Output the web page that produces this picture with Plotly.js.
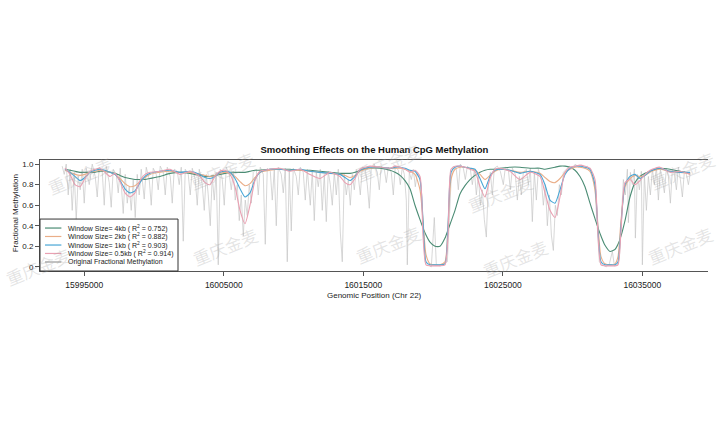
<!DOCTYPE html>
<html>
<head>
<meta charset="utf-8">
<script src="https://cdn.plot.ly/plotly-3.0.1.min.js"></script>
<style>html,body{margin:0;padding:0;background:#fff;}#chart{width:720px;height:445px;}</style>
</head>
<body>
<div id="chart"></div>
<script>
// ---- data ----
const smoothPos = [15993618,15993976,15994335,15994693,15995051,15995410,15995768,15996127,15996485,15996843,15997202,15997560,15997919,15998277,15998635,15998994,15999352,15999711,16000427,16001144,16001861,16002578,16003295,16003653,16004011,16004370,16004728,16005087,16005445,16005803,16006162,16006520,16006879,16007237,16007595,16008312,16009029,16009746,16010463,16011180,16011896,16012613,16013330,16013688,16014047,16014405,16014763,16015480,16016197,16016914,16017272,16017631,16017989,16018347,16018706,16019064,16019279,16019494,16019781,16020140,16020498,16020856,16021071,16021286,16021573,16021931,16022290,16022648,16023007,16023365,16023723,16024082,16024440,16024799,16025515,16026232,16026949,16027666,16028024,16028383,16028741,16029099,16029458,16029816,16030175,16030533,16030891,16031250,16031608,16031823,16032038,16032325,16032683,16033042,16033257,16033472,16033759,16034117,16034475,16034834,16035192,16035551,16035909,16036267,16036984,16037701,16038418];

const win4kb = [.95,.94,.93,.92,.92,.92,.92,.93,.93,.92,.91,.89,.87,.86,.85,.85,.85,.86,.88,.91,.92,.91,.89,.88,.88,.89,.90,.91,.92,.92,.92,.92,.93,.94,.94,.95,.95,.95,.94,.94,.93,.92,.91,.91,.91,.92,.94,.96,.96,.94,.92,.89,.84,.76,.60,.46,.38,.31,.24,.20,.20,.28,.36,.44,.55,.71,.79,.85,.89,.92,.94,.95,.95,.96,.97,.97,.96,.96,.95,.96,.97,.98,.98,.97,.94,.88,.78,.62,.47,.38,.30,.21,.15,.17,.22,.30,.45,.68,.82,.88,.91,.93,.95,.96,.95,.93,.91];

const win2kb = [.94,.92,.90,.89,.90,.92,.93,.94,.93,.92,.90,.86,.81,.78,.79,.83,.87,.90,.92,.93,.92,.92,.90,.89,.88,.89,.91,.92,.91,.88,.83,.79,.81,.87,.92,.94,.95,.94,.94,.93,.92,.91,.90,.89,.87,.89,.93,.96,.97,.96,.96,.96,.95,.93,.90,.75,.45,.12,.03,.02,.02,.05,.40,.85,.95,.97,.97,.96,.94,.90,.85,.89,.93,.95,.94,.92,.93,.91,.87,.83,.82,.86,.92,.95,.97,.97,.96,.93,.75,.40,.10,.03,.02,.03,.10,.45,.78,.86,.89,.88,.89,.92,.94,.95,.93,.92,.91];

const win1kb = [.95,.92,.88,.84,.87,.92,.94,.95,.94,.92,.90,.84,.76,.72,.74,.82,.88,.91,.93,.94,.92,.93,.90,.87,.86,.88,.92,.93,.92,.86,.76,.68,.72,.85,.92,.95,.95,.94,.95,.93,.92,.91,.90,.87,.84,.88,.94,.97,.97,.96,.97,.97,.96,.94,.93,.85,.45,.05,.02,.02,.02,.03,.40,.92,.97,.98,.97,.96,.95,.86,.76,.88,.94,.95,.94,.91,.93,.90,.80,.65,.62,.75,.90,.96,.98,.98,.97,.95,.80,.35,.05,.02,.02,.02,.05,.40,.80,.88,.90,.86,.89,.93,.95,.96,.93,.92,.92];

const win05kb = [.96,.90,.80,.78,.86,.93,.95,.96,.92,.88,.91,.83,.72,.68,.72,.84,.90,.92,.93,.95,.90,.93,.88,.82,.80,.88,.93,.94,.90,.78,.55,.42,.60,.84,.93,.95,.96,.93,.95,.90,.86,.92,.88,.82,.80,.86,.95,.98,.97,.96,.98,.97,.95,.92,.94,.88,.30,.02,.01,.01,.01,.02,.30,.95,.98,.98,.97,.95,.93,.78,.68,.86,.95,.96,.93,.85,.92,.88,.72,.55,.48,.68,.92,.97,.98,.99,.98,.96,.85,.30,.02,.01,.01,.01,.02,.35,.82,.85,.80,.84,.90,.94,.96,.97,.92,.93,.90];

const rawPos = [15993418,15993562,15993705,15993848,15993992,15994135,15994279,15994422,15994565,15994709,15994852,15994996,15995139,15995354,15995569,15995784,15995928,15996071,15996286,15996430,15996573,15996788,15996932,15997075,15997290,15997433,15997577,15997792,15997935,15998079,15998222,15998366,15998509,15998652,15998796,15998939,15999083,15999298,15999441,15999656,15999800,15999943,16000158,16000301,16000445,16000660,16000803,16000947,16001162,16001305,16001449,16001664,16001807,16001951,16002094,16002237,16002452,16002596,16002739,16002954,16003098,16003241,16003456,16003600,16003743,16003886,16004030,16004173,16004317,16004460,16004603,16004747,16004890,16005034,16005177,16005392,16005536,16005679,16005822,16005966,16006109,16006253,16006396,16006539,16006683,16006826,16006970,16007113,16007328,16007471,16007615,16007830,16007973,16008117,16008332,16008475,16008619,16008762,16008905,16009121,16009264,16009407,16009551,16009694,16009838,16009981,16010196,16010339,16010483,16010698,16010841,16010985,16011200,16011343,16011487,16011630,16011773,16011917,16012060,16012204,16012347,16012490,16012634,16012777,16012921,16013064,16013207,16013351,16013494,16013638,16013781,16013924,16014068,16014211,16014355,16014498,16014641,16014785,16014928,16015143,16015287,16015430,16015574,16015789,16016004,16016147,16016291,16016506,16016649,16016793,16017008,16017151,16017294,16017510,16017653,16017796,16017940,16018083,16018155,16018298,16018442,16018585,16018728,16018872,16019015,16019159,16019302,16019445,16019661,16019876,16020091,16020234,16020521,16020808,16021023,16021166,16021310,16021453,16021668,16021812,16021955,16022170,16022313,16022457,16022672,16022815,16022959,16023102,16023246,16023389,16023532,16023676,16023819,16023963,16024106,16024249,16024393,16024608,16024823,16025038,16025181,16025397,16025540,16025683,16025898,16026042,16026185,16026329,16026472,16026687,16026831,16026974,16027117,16027261,16027404,16027548,16027763,16027906,16028049,16028193,16028336,16028480,16028623,16028766,16028910,16029053,16029197,16029340,16029555,16029770,16029985,16030200,16030416,16030631,16030846,16031061,16031276,16031491,16031634,16031778,16031921,16032136,16032423,16032638,16032853,16032997,16033212,16033355,16033499,16033642,16033785,16033929,16034001,16034144,16034287,16034431,16034502,16034646,16034789,16034933,16035004,16035148,16035291,16035435,16035578,16035721,16035865,16036008,16036152,16036295,16036438,16036582,16036725,16036869,16037012,16037155,16037299,16037442,16037586,16037729,16037872,16038016,16038159,16038303,16038446];

const rawFrac = [.98,.90,1.0,.70,.95,.55,.92,.45,.88,.75,.95,.62,.96,.80,1.0,.88,.68,.97,.93,.60,.98,.82,.58,.95,.90,.72,.96,.52,.90,.62,.78,.55,.85,.48,.90,.70,.95,.66,.97,.85,.60,.96,.90,.75,.98,.92,.70,.97,.88,.62,.95,.93,.80,.97,.25,.95,.90,.70,.96,.85,.60,.95,.80,.55,.90,.70,.40,.88,.65,.92,.02,.95,.85,.60,.97,.90,.75,.93,.65,.80,.45,.70,.30,.65,.50,.80,.62,.92,.95,.70,.97,.90,.22,.96,.93,.65,.95,.40,.97,.90,.72,.96,.05,.94,.35,.96,.88,.70,.97,.92,.65,.95,.60,.93,.45,.92,.78,.95,.55,.90,.44,.93,.80,.60,.92,.70,.95,.34,.05,.90,.70,.85,.60,.90,.75,.95,.88,.70,.97,.95,.80,.57,.97,1.0,.92,.75,.98,.95,.82,.97,.92,.70,.98,.94,.80,.97,.90,.65,.02,.92,.85,.95,.78,.92,.88,.75,.40,.05,.02,.0,.48,.02,.01,.03,.05,.45,.90,.98,.95,.75,1.0,.96,.85,.98,.95,.80,.94,.70,.90,.60,.75,.46,.29,.80,.92,.70,.96,.98,.93,.80,.97,.95,.75,.96,.90,.65,.88,.70,.92,.95,.80,.96,.44,.92,.65,.95,.85,.60,.80,.40,.70,.31,.16,.60,.50,.80,.70,.92,.95,.98,.96,1.0,.97,.99,.96,.98,.94,.90,.70,.30,.05,.02,.0,.03,.15,.01,.02,.08,.50,.85,.70,.95,.43,.92,.80,.95,.28,.90,.75,.93,.02,.90,.55,.88,.70,.95,.80,.97,.65,.95,.85,.72,.96,.88,.62,.95,.90,.75,.97,.85,.68,.93,.90,.80,.92];

const seriesNames = [
  'Window Size= 4kb ( R<sup>2</sup> = 0.752)',
  'Window Size= 2kb ( R<sup>2</sup> = 0.882)',
  'Window Size= 1kb ( R<sup>2</sup> = 0.903)',
  'Window Size= 0.5kb ( R<sup>2</sup> = 0.914)',
  'Original Fractional Methylation'
];
const xTickVals = [15995000, 16005000, 16015000, 16025000, 16035000];
const xTickText = ['15995000', '16005000', '16015000', '16025000', '16035000'];
const yTickVals = [0, 0.2, 0.4, 0.6, 0.8, 1.0];
const yTickText = ['0', '0.2', '0.4', '0.6', '0.8', '1.0'];
const watermarkText = '重庆金麦';

// ---- styles ----
const colors = ['#4b8c74', '#eaae88', '#48a6d6', '#eaa0b2', '#c6c6c6'];
const font = 'Liberation Sans, Arial, sans-serif';

const traces = [
  {x: rawPos, y: rawFrac, mode: 'lines', line: {color: colors[4], width: 0.7}},
  {x: smoothPos, y: win4kb, mode: 'lines', line: {color: colors[0], width: 1.1, shape: 'spline', smoothing: 0.6}},
  {x: smoothPos, y: win2kb, mode: 'lines', line: {color: colors[1], width: 1.1, shape: 'spline', smoothing: 0.6}},
  {x: smoothPos, y: win1kb, mode: 'lines', line: {color: colors[2], width: 1.1, shape: 'spline', smoothing: 0.6}},
  {x: smoothPos, y: win05kb, mode: 'lines', line: {color: colors[3], width: 1.1, shape: 'spline', smoothing: 0.6}}
].map(t => Object.assign(t, {showlegend: false, hoverinfo: 'skip'}));

// legend (drawn manually, compact like the original)
const shapes = [{type: 'rect', xref: 'paper', yref: 'paper', x0: 0, x1: 0.2066, y0: 0, y1: 0.468,
  line: {color: '#333', width: 1}, fillcolor: 'rgba(255,255,255,0.9)', layer: 'above'}];
const annotations = [];
const rowY = [0.387, 0.311, 0.234, 0.158, 0.081];
const legendColors = [colors[0], colors[1], colors[2], colors[3], '#999999'];
seriesNames.forEach((name, i) => {
  shapes.push({type: 'line', xref: 'paper', yref: 'paper', x0: 0.0075, x1: 0.032, y0: rowY[i], y1: rowY[i],
    line: {color: legendColors[i], width: 1.2}, layer: 'above'});
  annotations.push({xref: 'paper', yref: 'paper', x: 0.039, y: rowY[i], xanchor: 'left', yanchor: 'middle',
    text: name, showarrow: false, font: {family: font, size: 7, color: '#222'}});
});

// axis titles
annotations.push({xref: 'paper', yref: 'paper', x: 0.5, y: -0.225, xanchor: 'center', yanchor: 'middle',
  text: 'Genomic Position (Chr 22)', showarrow: false, font: {family: font, size: 8, color: '#222'}});
annotations.push({xref: 'paper', yref: 'paper', x: -0.0374, y: 0.52, xanchor: 'center', yanchor: 'middle',
  text: 'Fractional Methylation', textangle: -90, showarrow: false, font: {family: font, size: 8, color: '#222'}});

// watermarks
const wm = [[80, 175], [38, 266], [222, 170], [225, 246], [388, 244], [388, 162], [500, 193], [515, 258], [680, 245], [682, 170]];
wm.forEach(p => {
  annotations.push({xref: 'paper', yref: 'paper', x: (p[0] - 40) / 668, y: (271 - p[1]) / 111,
    xanchor: 'center', yanchor: 'middle', text: watermarkText, textangle: -22, showarrow: false,
    font: {family: 'Noto Sans CJK SC', size: 17, color: 'rgba(160,160,160,0.28)'}});
});

const layout = {
  width: 720, height: 445,
  margin: {l: 40, r: 12, t: 160, b: 174, pad: 0},
  paper_bgcolor: '#fff', plot_bgcolor: '#fff',
  title: {text: '<b>Smoothing Effects on the Human CpG Methylation</b>', x: 0.52, xanchor: 'center',
    y: 1 - 150 / 445, yanchor: 'middle', font: {family: font, size: 9.5, color: '#111'}},
  xaxis: {range: [15991826, 16039708], showgrid: false, zeroline: false, showline: true, mirror: true,
    linecolor: '#555', linewidth: 1, ticks: 'outside', ticklen: 4, tickcolor: '#555',
    tickvals: xTickVals, ticktext: xTickText, tickfont: {family: font, size: 8.5, color: '#222'}, ticklabelstandoff: 2},
  yaxis: {range: [-0.04, 1.04], showgrid: false, zeroline: false, showline: true, mirror: false,
    linecolor: '#555', linewidth: 1, ticks: 'outside', ticklen: 4, tickcolor: '#555',
    tickvals: yTickVals, ticktext: yTickText, tickfont: {family: font, size: 8, color: '#222'}},
  shapes: shapes, annotations: annotations, showlegend: false
};

Plotly.newPlot('chart', traces, layout, {displayModeBar: false, staticPlot: true});
</script>
</body>
</html>
